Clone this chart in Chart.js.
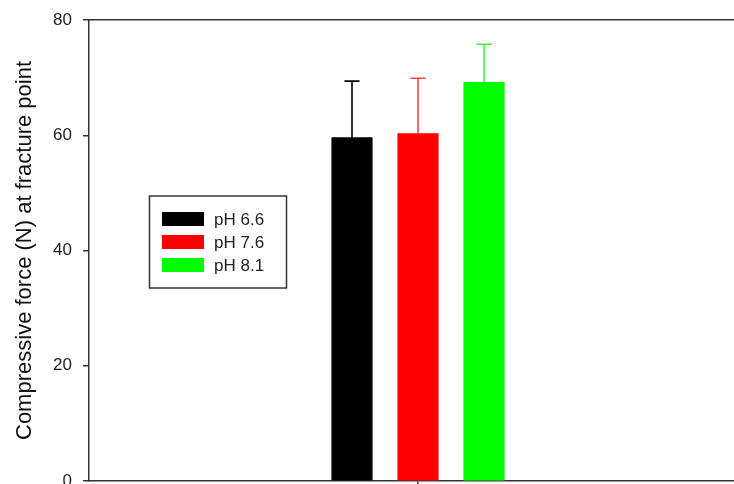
<!DOCTYPE html>
<html>
<head>
<meta charset="utf-8">
<script src="https://cdn.jsdelivr.net/npm/chart.js@4"></script>
<style>
  html, body { margin: 0; padding: 0; background: #fff; overflow: hidden; }
  #wrap { width: 734px; height: 484px; overflow: hidden; }
</style>
</head>
<body>
<div id="wrap"><canvas id="c" width="747" height="500"></canvas></div>
<script>
// values
const categories = [''];
const seriesLabels = ['pH 6.6', 'pH 7.6', 'pH 8.1'];
const seriesMeans = [59.6, 60.3, 69.2];
const seriesErrors = [9.8, 9.6, 6.6];
const seriesColors = ['#000000', '#ff0000', '#00ff00'];
const errorColors = ['#000000', '#ff4040', '#33ff33'];
const yTicks = [0, 20, 40, 60, 80];

const FONT = 'Arial, "Liberation Sans", sans-serif';
const AXIS = '#333333';

// upward error bars with a cap
const errorBars = {
    id: 'errorBars',
    afterDatasetsDraw(chart) {
        const ctx = chart.ctx;
        const y = chart.scales.y;
        chart.data.datasets.forEach((ds, i) => {
            const bar = chart.getDatasetMeta(i).data[0];
            const top = y.getPixelForValue(ds.data[0] + ds.errors[0]);
            ctx.save();
            ctx.strokeStyle = ds.errorColor;
            ctx.lineWidth = 1.6;
            ctx.beginPath();
            ctx.moveTo(bar.x, bar.y);
            ctx.lineTo(bar.x, top);
            ctx.moveTo(bar.x - 7.5, top);
            ctx.lineTo(bar.x + 7.5, top);
            ctx.stroke();
            ctx.restore();
        });
    }
};

// boxed legend sitting inside the plot
const boxLegend = {
    id: 'boxLegend',
    afterDraw(chart) {
        const ctx = chart.ctx;
        ctx.save();
        ctx.strokeStyle = AXIS;
        ctx.lineWidth = 1.5;
        ctx.strokeRect(149.5, 196, 137, 92);
        ctx.font = '17px ' + FONT;
        ctx.textBaseline = 'middle';
        chart.data.datasets.forEach((ds, i) => {
            const cy = 219 + i * 23;
            ctx.fillStyle = ds.backgroundColor;
            ctx.fillRect(162, cy - 7, 42, 14);
            ctx.fillStyle = '#222';
            ctx.fillText(ds.label, 214, cy + 1);
        });
        ctx.restore();
    }
};

const datasets = seriesLabels.map((label, i) => ({
    label: label,
    data: [seriesMeans[i]],
    errors: [seriesErrors[i]],
    backgroundColor: seriesColors[i],
    errorColor: errorColors[i],
    borderWidth: 0,
    barThickness: 66,
    maxBarThickness: 40.5
}));

new Chart(document.getElementById('c'), {
    type: 'bar',
    data: { labels: categories, datasets: datasets },
    options: {
        responsive: false,
        animation: false,
        layout: { padding: 0 },
        plugins: {
            legend: { display: false },
            tooltip: { enabled: false }
        },
        scales: {
            x: {
                position: 'bottom',
                grid: { drawOnChartArea: false, offset: false, tickLength: 6, color: AXIS, lineWidth: 1.5 },
                border: { display: true, color: AXIS, width: 1.5 },
                ticks: { display: true },
                afterFit(s) { s.height = 19; }
            },
            x2: {
                type: 'category',
                position: 'top',
                grid: { display: false },
                border: { display: true, color: AXIS, width: 1.5 },
                ticks: { display: false },
                afterFit(s) { s.height = 20; }
            },
            y: {
                min: 0,
                max: 80,
                afterBuildTicks(s) { s.ticks = yTicks.map(v => ({ value: v })); },
                grid: { drawOnChartArea: false, tickLength: 6, color: AXIS, lineWidth: 1.5 },
                border: { display: true, color: AXIS, width: 1.5 },
                ticks: { color: '#222', font: { size: 17, family: FONT }, padding: 11 },
                title: {
                    display: true,
                    text: 'Compressive force (N) at fracture point',
                    color: '#111',
                    font: { size: 22, family: FONT },
                    padding: { top: 12, bottom: 0 }
                },
                afterFit(s) {
                    s.width = 89;
                    // the end labels may spill past the plot edges
                    s.paddingTop = 0;
                    s.paddingBottom = 0;
                }
            }
        }
    },
    plugins: [errorBars, boxLegend]
});
</script>
</body>
</html>
